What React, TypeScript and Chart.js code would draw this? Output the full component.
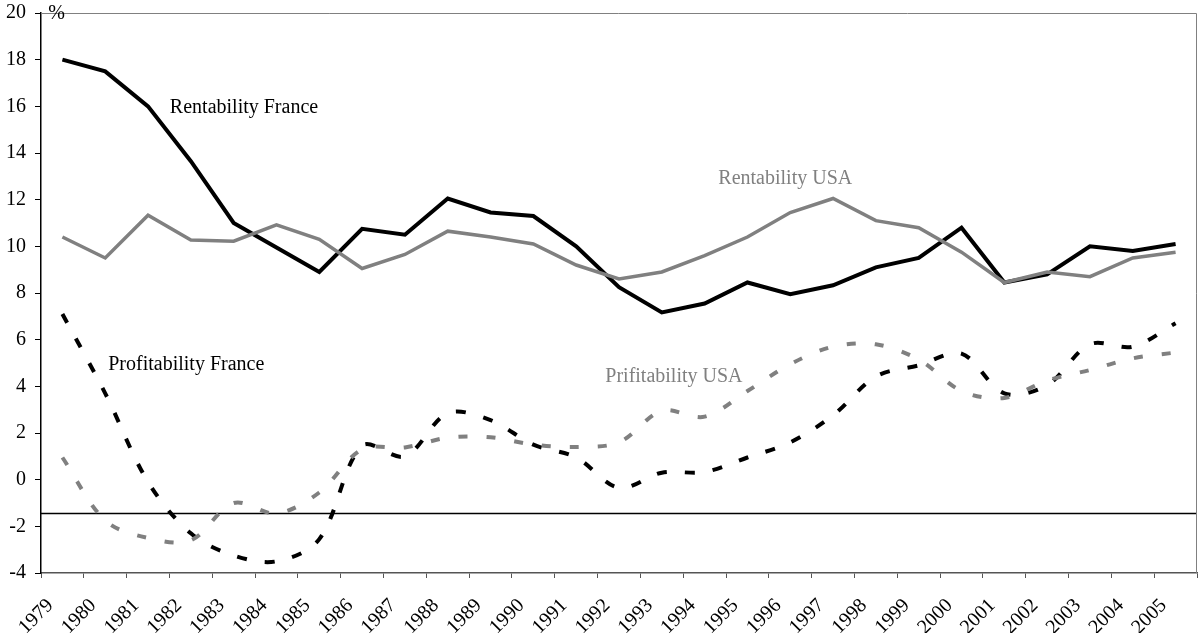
import React, { useEffect, useRef } from 'react';
import { Chart, registerables } from 'chart.js';

Chart.register(...registerables);

const years = [
  '1979', '1980', '1981', '1982', '1983', '1984', '1985', '1986', '1987', '1988',
  '1989', '1990', '1991', '1992', '1993', '1994', '1995', '1996', '1997', '1998',
  '1999', '2000', '2001', '2002', '2003', '2004', '2005',
];

const rentabilityFrance = [
  18.0, 17.5, 16.0, 13.65, 11.0, 9.95, 8.9, 10.75, 10.5, 12.05,
  11.45, 11.3, 10.0, 8.25, 7.17, 7.55, 8.45, 7.95, 8.33, 9.1,
  9.5, 10.8, 8.45, 8.8, 10.0, 9.8, 10.1,
];

const rentabilityUSA = [
  10.4, 9.5, 11.33, 10.27, 10.22, 10.92, 10.3, 9.05, 9.65, 10.65,
  10.4, 10.1, 9.2, 8.6, 8.9, 9.6, 10.4, 11.45, 12.05, 11.1,
  10.8, 9.75, 8.45, 8.9, 8.7, 9.5, 9.75,
];

const profitabilityFrance = [
  7.1, 3.7, -0.1, -2.3, -3.25, -3.5, -2.55, 1.45, 1.0, 2.85,
  2.55, 1.5, 0.95, -0.35, 0.3, 0.33, 0.95, 1.6, 2.76, 4.42,
  4.9, 5.4, 3.7, 4.05, 5.8, 5.7, 6.7,
];

const profitabilityUSA = [
  0.95, -1.75, -2.5, -2.6, -1.0, -1.45, -0.55, 1.3, 1.38, 1.8,
  1.82, 1.5, 1.4, 1.6, 2.95, 2.7, 3.8, 4.95, 5.7, 5.8,
  5.15, 3.8, 3.5, 4.25, 4.7, 5.2, 5.45,
];

const yTickValues = { min: -4, max: 20, step: 2 };
const referenceLineValue = -1.43;

// text labels placed in data space: category index (fractional) and value
const annotationTexts = ['Rentability France', 'Rentability USA', 'Profitability France', 'Prifitability USA', '%'];
const annotationIndex = [2.51, 15.32, 1.07, 12.68, -0.33];
const annotationValue = [15.96, 12.91, 4.94, 4.43, 19.95];
const annotationColors = ['#000000', '#808080', '#000000', '#808080', '#000000'];

const FONT = '"Liberation Serif", "Times New Roman", serif';
const GRAY = '#808080';

export default function App() {
  const ref = useRef<HTMLCanvasElement>(null);

  useEffect(() => {
    const canvas = ref.current;
    if (!canvas) return;

    const decorPlugin = {
      id: 'decor',
      beforeDatasetsDraw(chart: any) {
        const { ctx, chartArea, scales } = chart;
        const y = Math.round(scales.y.getPixelForValue(referenceLineValue)) + 0.5;
        ctx.save();
        ctx.strokeStyle = '#000';
        ctx.lineWidth = 1.5;
        ctx.beginPath();
        ctx.moveTo(chartArea.left, y);
        ctx.lineTo(chartArea.right, y);
        ctx.stroke();
        ctx.restore();
      },
      afterDatasetsDraw(chart: any) {
        const { ctx, scales, chartArea } = chart;
        ctx.save();
        ctx.strokeStyle = GRAY;
        ctx.lineWidth = 1;
        ctx.beginPath();
        ctx.moveTo(chartArea.left, chartArea.top + 0.5);
        ctx.lineTo(chartArea.right - 0.5, chartArea.top + 0.5);
        ctx.lineTo(chartArea.right - 0.5, chartArea.bottom);
        ctx.stroke();

        ctx.font = `20px ${FONT}`;
        ctx.textAlign = 'left';
        ctx.textBaseline = 'middle';
        annotationTexts.forEach((t, i) => {
          ctx.fillStyle = annotationColors[i];
          const x = scales.x.getPixelForValue(annotationIndex[i]);
          const y = scales.y.getPixelForValue(annotationValue[i]);
          ctx.fillText(t, x, y);
        });
        ctx.restore();
      },
    };

    const zeroPad = (s: any) => {
      s.paddingTop = 0;
      s.paddingBottom = 0;
      s.paddingLeft = 0;
      s.paddingRight = 0;
    };

    const chart = new Chart(canvas, {
      type: 'line',
      data: {
        labels: years,
        datasets: [
          {
            label: 'Rentability USA',
            data: rentabilityUSA,
            borderColor: GRAY,
            borderWidth: 3.5,
            pointRadius: 0,
            tension: 0,
          },
          {
            label: 'Prifitability USA',
            data: profitabilityUSA,
            borderColor: GRAY,
            borderWidth: 4,
            borderDash: [9, 19],
            pointRadius: 0,
            tension: 0.33,
          },
          {
            label: 'Profitability France',
            data: profitabilityFrance,
            borderColor: '#000',
            borderWidth: 4,
            borderDash: [10, 18],
            pointRadius: 0,
            tension: 0.33,
          },
          {
            label: 'Rentability France',
            data: rentabilityFrance,
            borderColor: '#000',
            borderWidth: 4,
            pointRadius: 0,
            tension: 0,
          },
        ],
      },
      options: {
        responsive: false,
        animation: false,
        devicePixelRatio: 1,
        layout: { autoPadding: false, padding: { top: 13, right: 1, left: 0, bottom: 0 } },
        plugins: { legend: { display: false }, tooltip: { enabled: false } },
        scales: {
          x: {
            offset: true,
            grid: { offset: true, drawOnChartArea: false, drawTicks: true, tickLength: 5, color: '#555' },
            border: { display: true, color: '#555', width: 1.5 },
            ticks: {
              autoSkip: false,
              minRotation: 45,
              maxRotation: 45,
              labelOffset: -12,
              padding: 16,
              color: '#000',
              font: { family: FONT, size: 20 },
            },
            afterFit: (s: any) => { s.height = 60; zeroPad(s); },
          },
          y: {
            min: yTickValues.min,
            max: yTickValues.max,
            ticks: { stepSize: yTickValues.step, color: '#000', padding: 9, font: { family: FONT, size: 20 } },
            grid: { drawOnChartArea: false, drawTicks: true, tickLength: 6, color: '#000' },
            border: { display: true, color: '#000', width: 1.5 },
            afterFit: (s: any) => { s.width = 41; zeroPad(s); },
          },
        },
      },
      plugins: [decorPlugin],
    });

    return () => chart.destroy();
  }, []);

  return (
    <canvas
      ref={ref}
      width={1198}
      height={633}
      style={{ position: 'fixed', left: 0, top: 0, display: 'block', background: '#fff' }}
    />
  );
}
